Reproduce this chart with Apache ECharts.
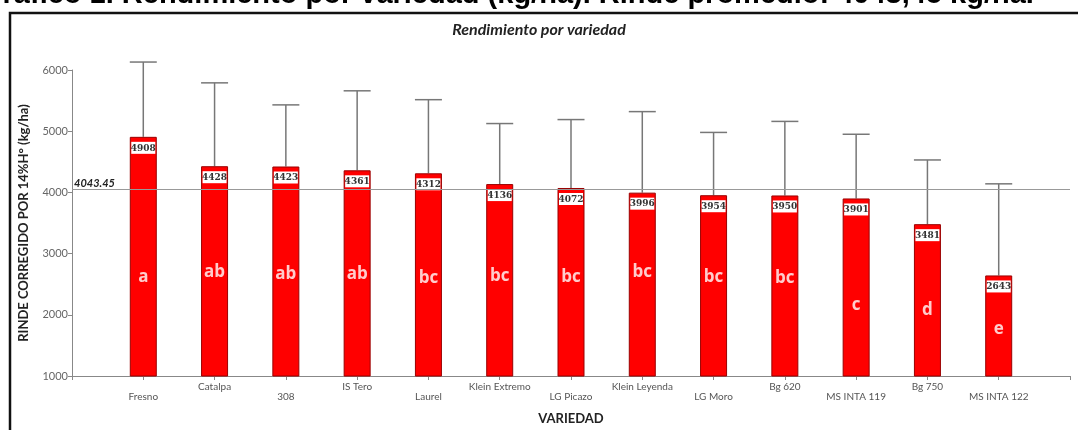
<!doctype html>
<html>
<head>
<meta charset="UTF-8">
<title>Rendimiento por variedad</title>
<script src="https://cdn.jsdelivr.net/npm/echarts@6/dist/echarts.min.js"></script>
<style>
  html, body { margin: 0; padding: 0; background: #fff; }
  #main { width: 1078px; height: 430px; }
</style>
</head>
<body>
<div id="main"></div>
<script>
// datos
var variedades = ['Fresno', 'Catalpa', '308', 'IS Tero', 'Laurel', 'Klein Extremo', 'LG Picazo',
  'Klein Leyenda', 'LG Moro', 'Bg 620', 'MS INTA 119', 'Bg 750', 'MS INTA 122'];
var rinde = [4908, 4428, 4423, 4361, 4312, 4136, 4072, 3996, 3954, 3950, 3901, 3481, 2643];
var rindeMax = [6130, 5790, 5430, 5660, 5515, 5125, 5190, 5320, 4980, 5160, 4950, 4530, 4140];
var letras = ['a', 'ab', 'ab', 'ab', 'bc', 'bc', 'bc', 'bc', 'bc', 'bc', 'c', 'd', 'e'];
var promedio = 4043.45;
var yTicks = [1000, 2000, 3000, 4000, 5000, 6000];

// altura donde va cada letra dentro de la barra (solo ubicacion)
var letraY = [2620, 2700, 2670, 2670, 2600, 2630, 2620, 2700, 2620, 2600, 2165, 2068, 1760];

var myChart = echarts.init(document.getElementById('main'));

// eje de categorias con un lugar vacio a cada lado
var cats = [''].concat(variedades).concat(['']);

var option = {
  animation: false,
  textStyle: { fontFamily: 'Lato, sans-serif' },
  graphic: [
    {
      type: 'text', left: -20, top: -20,
      style: {
        text: 'Gráfico 1. Rendimiento por variedad (kg/ha). Rinde promedio: 4043,45 kg/ha.',
        font: 'bold 29px "Liberation Sans", Arial, sans-serif', fill: '#000'
      }
    },
    {
      type: 'rect', shape: { x: 10, y: 13, width: 1200, height: 500 },
      style: { fill: 'none', stroke: '#111', lineWidth: 2.5 }
    }
  ],
  title: {
    text: 'Rendimiento por variedad',
    left: 'center', top: 17,
    textStyle: { fontSize: 16, fontStyle: 'italic', fontWeight: 'bold', color: '#222', fontFamily: 'Lato, sans-serif' }
  },
  grid: { left: 72, right: 8, top: 70, bottom: 51 },
  xAxis: {
    type: 'category',
    data: cats,
    boundaryGap: false,
    name: 'VARIEDAD',
    nameLocation: 'middle',
    nameGap: 36,
    nameTextStyle: { fontSize: 13, fontWeight: 'bold', color: '#222' },
    axisLine: { lineStyle: { color: '#888' } },
    axisTick: { show: true, interval: 0, length: 4, lineStyle: { color: '#888' } },
    axisLabel: {
      interval: 0, margin: 6, fontSize: 10, color: '#555', lineHeight: 10,
      formatter: function (v, i) { return i % 2 === 1 ? '\n' + v : v; }
    }
  },
  yAxis: {
    type: 'value',
    min: yTicks[0], max: yTicks[yTicks.length - 1], interval: 1000,
    name: 'RINDE CORREGIDO POR 14%H° (kg/ha)',
    nameLocation: 'middle',
    nameGap: 42,
    nameTextStyle: { fontSize: 13, fontWeight: 'bold', color: '#222' },
    axisLine: { show: true, lineStyle: { color: '#888' } },
    axisTick: { show: true, length: 4, lineStyle: { color: '#888' } },
    axisLabel: { fontSize: 11, color: '#666', margin: 4, formatter: function (v) { return String(v); } },
    splitLine: { show: false }
  },
  series: [
    {
      type: 'custom',
      clip: false,
      z: 1,
      data: rinde.map(function (v, i) { return [i + 1, v, rindeMax[i]]; }),
      encode: { x: 0, y: [1, 2] },
      renderItem: function (params, api) {
        var base = api.coord([api.value(0), api.value(1)]);
        var top = api.coord([api.value(0), api.value(2)]);
        var half = 13.5;
        var st = { stroke: '#777', lineWidth: 1.5 };
        return {
          type: 'group',
          children: [
            { type: 'line', shape: { x1: base[0], y1: base[1], x2: top[0], y2: top[1] }, style: st },
            { type: 'line', shape: { x1: top[0] - half, y1: top[1], x2: top[0] + half, y2: top[1] }, style: st }
          ]
        };
      }
    },
    {
      type: 'bar',
      z: 3,
      barWidth: 27,
      data: [null].concat(rinde).concat([null]),
      itemStyle: { color: '#ff0000', borderColor: '#9a0000', borderWidth: 1 },
      label: {
        show: true,
        position: 'insideTop',
        distance: 5,
        backgroundColor: '#fff',
        width: 24,
        align: 'center',
        padding: [2, 0, 1, 0],
        fontSize: 9,
        fontWeight: 'bold',
        fontFamily: '"DejaVu Serif", serif',
        color: '#333'
      },
      markLine: {
        silent: true,
        symbol: ['none', 'none'],
        lineStyle: { color: '#999', type: 'solid', width: 1 },
        label: {
          position: 'insideStartTop',
          formatter: String(promedio),
          fontSize: 11, fontStyle: 'italic', fontWeight: 'bold', color: '#222',
          distance: [2, 1]
        },
        data: [{ yAxis: promedio }]
      }
    },
    {
      type: 'scatter',
      z: 5,
      symbolSize: 0,
      data: letraY.map(function (y, i) { return [i + 1, y]; }),
      label: {
        show: true,
        position: 'inside',
        formatter: function (p) { return letras[p.dataIndex]; },
        fontSize: 17, fontWeight: 'bold', color: '#fff',
        fontFamily: '"Open Sans", sans-serif'
      }
    }
  ]
};

myChart.setOption(option);
</script>
</body>
</html>
